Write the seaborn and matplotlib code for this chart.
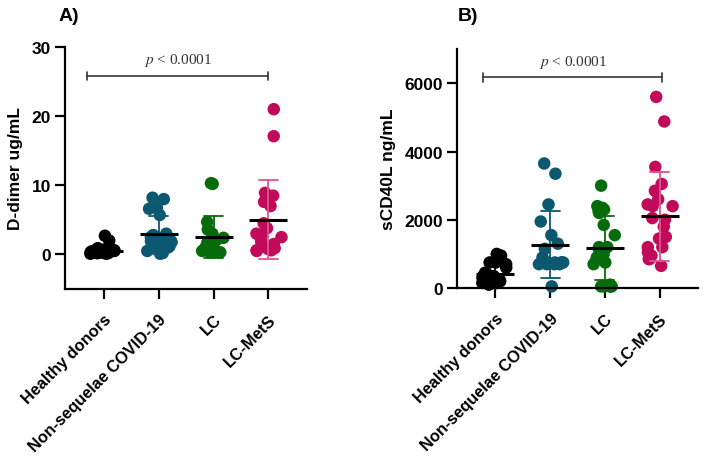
"""D-dimer and sCD40L by clinical group (mean +/- SD with individual values)."""
import matplotlib
matplotlib.use("Agg")
import matplotlib.pyplot as plt
import numpy as np
import pandas as pd
import seaborn as sns

GROUPS = ["Healthy donors", "Non-sequelae COVID-19", "LC", "LC-MetS"]
COLORS = ["#000000", "#0b5870", "#076b0c", "#c20a5a"]
ERR_COLORS = ["#000000", "#0b5870", "#076b0c", "#d9578a"]

# D-dimer (ug/mL)
ddimer_hd = [2.7, 2.0, 0.9, 0.7, 0.6, 0.5, 0.5, 0.4, 0.4, 0.3, 0.3, 0.3,
             0.2, 0.2, 0.2, 0.1, 0.1, 0.3, 0.2, 0.4]
ddimer_ns = [8.2, 8.0, 6.8, 6.6, 5.7, 3.0, 2.8, 2.5, 2.3, 2.0, 1.8, 1.5,
             1.2, 1.0, 0.8, 0.5, 0.2, 0.1, 2.6, 1.9]
ddimer_lc = [10.3, 10.2, 4.7, 3.6, 3.0, 2.4, 2.0, 1.8, 1.5, 1.2, 1.0, 0.8,
             0.6, 0.5, 0.4, 0.3, 0.3, 0.3]
ddimer_mets = [21.0, 17.1, 8.9, 8.5, 7.6, 7.0, 4.5, 3.8, 3.0, 2.8, 2.5, 1.9,
               1.5, 1.3, 0.9, 0.8, 0.6, 0.6, 0.5]

# sCD40L (ng/mL)
cd40_hd = [1000, 950, 750, 750, 700, 600, 450, 400, 350, 350, 300, 300,
           250, 250, 200, 200, 150, 150, 100, 300]
cd40_ns = [3650, 3350, 2450, 1950, 1550, 1300, 1150, 900, 750, 750, 750,
           750, 750, 700, 700, 700, 700, 50]
cd40_lc = [3000, 2400, 2350, 2300, 2250, 2200, 1850, 1550, 1200, 1200, 1150,
           1000, 900, 850, 750, 700, 50, 50, 50, 50, 50, 100]
cd40_mets = [5600, 4880, 3550, 3050, 2850, 2600, 2450, 2400, 2400, 2050,
             2000, 1800, 1500, 1450, 1200, 1200, 1050, 950, 900, 850, 850, 650]


def to_frame(values):
    rows = [(g, v) for g, vals in zip(GROUPS, values) for v in vals]
    return pd.DataFrame(rows, columns=["group", "value"])


def dot_panel(ax, df, ylabel, ylim, yticks, bracket_y, text_y, bracket_x):
    np.random.seed(3)
    sns.stripplot(data=df, x="group", y="value", hue="group", order=GROUPS,
                  palette=COLORS, jitter=0.25, size=9, linewidth=0,
                  legend=False, ax=ax, zorder=2)
    sns.pointplot(data=df, x="group", y="value", hue="group", order=GROUPS,
                  palette=ERR_COLORS, errorbar="sd", capsize=0.35,
                  linestyle="none", markers="", err_kws={"linewidth": 1.3},
                  legend=False, ax=ax, zorder=3)
    sns.pointplot(data=df, x="group", y="value", order=GROUPS, color="black",
                  errorbar=None, linestyle="none", markers="_",
                  markersize=28, markeredgewidth=2.2, ax=ax, zorder=4)
    for coll in ax.collections:
        coll.set_clip_on(False)

    ax.set_xlim(-0.7, 3.7)
    ax.set_ylim(*ylim)
    ax.set_yticks(yticks)
    ax.set_xlabel("")
    ax.set_ylabel(ylabel, fontsize=12.5, fontweight="bold", labelpad=6)
    ax.set_xticks(range(len(GROUPS)))
    ax.set_xticklabels(GROUPS, rotation=45, ha="right",
                       rotation_mode="anchor", fontsize=11.8,
                       fontweight="bold")
    for lab in ax.get_yticklabels():
        lab.set_fontweight("bold")
        lab.set_fontsize(12.5)
    sns.despine(ax=ax)
    for side in ("left", "bottom"):
        ax.spines[side].set_linewidth(1.6)
        ax.spines[side].set_color("black")
    ax.tick_params(length=7, width=1.6, pad=3, colors="black")
    ax.tick_params(axis="x", pad=9)

    # significance bracket
    x0, x1 = bracket_x
    tick_h = (ylim[1] - ylim[0]) * 0.018
    ax.plot([x0, x1], [bracket_y, bracket_y], color="#333333", lw=1.2)
    for x in (x0, x1):
        ax.plot([x, x], [bracket_y - tick_h, bracket_y + tick_h],
                color="#333333", lw=1.2)
    ax.text((x0 + x1) / 2, text_y, r"$\mathit{p}$ < 0.0001", ha="center",
            va="center", fontsize=11, color="#333333",
            family="Liberation Serif")


sns.set_style("ticks")
plt.rcParams["font.family"] = ["Liberation Sans", "DejaVu Sans"]
plt.rcParams["mathtext.fontset"] = "stix"
plt.rcParams["text.color"] = "black"
plt.rcParams["axes.labelcolor"] = "black"

fig = plt.figure(figsize=(7.09, 4.64), dpi=100)
ax_a = fig.add_axes([0.0917, 0.375, 0.3413, 0.5216])
ax_b = fig.add_axes([0.6446, 0.377, 0.3399, 0.515])

dot_panel(ax_a, to_frame([ddimer_hd, ddimer_ns, ddimer_lc, ddimer_mets]),
          "D-dimer ug/mL", (-5, 30), [0, 10, 20, 30], 25.8, 28.2,
          (-0.3, 3.0))
dot_panel(ax_b, to_frame([cd40_hd, cd40_ns, cd40_lc, cd40_mets]),
          "sCD40L ng/mL", (0, 7000), [0, 2000, 4000, 6000], 6170, 6650,
          (-0.23, 3.05))

fig.text(0.082, 0.964, "A)", fontsize=14, fontweight="bold", va="center")
fig.text(0.645, 0.964, "B)", fontsize=14, fontweight="bold", va="center")

fig.savefig("out.png", dpi=100)
